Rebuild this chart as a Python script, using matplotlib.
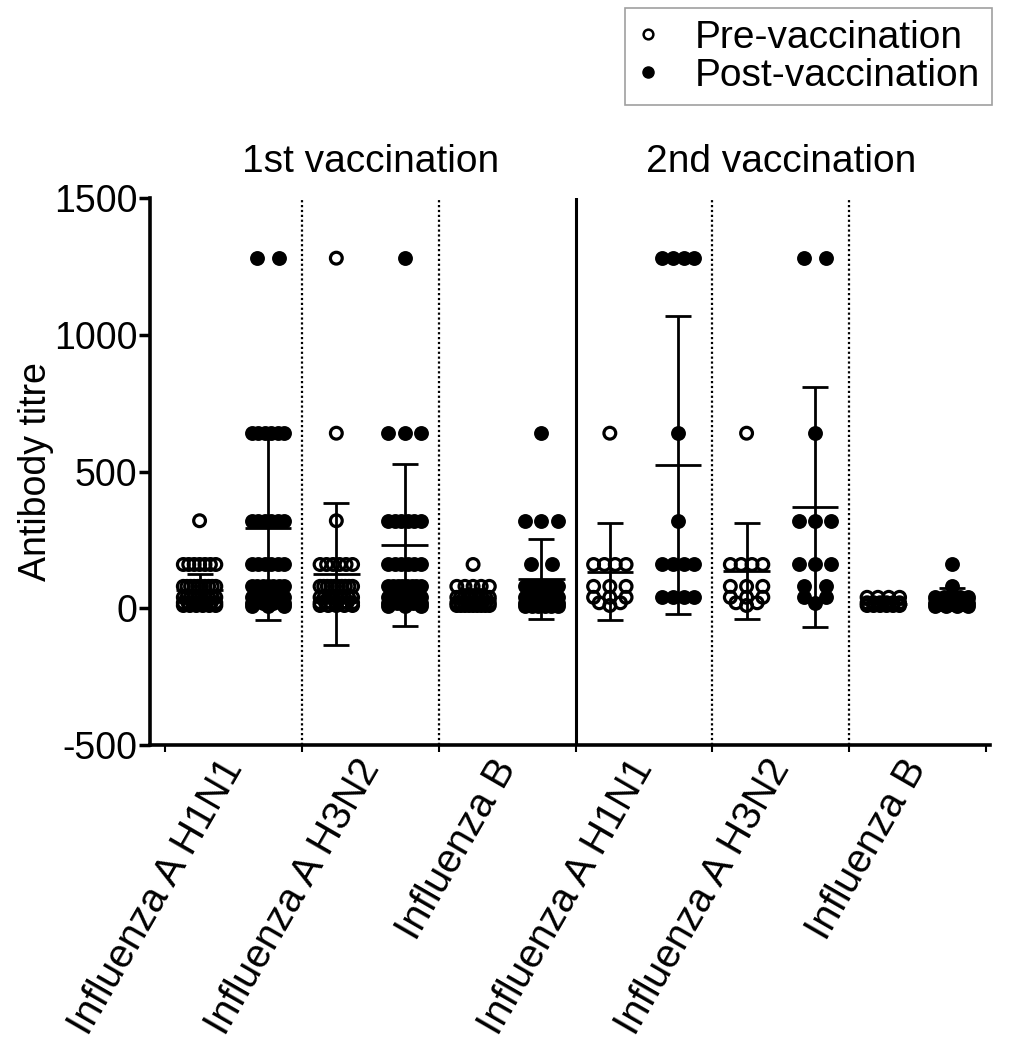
import matplotlib.pyplot as plt
import numpy as np
from matplotlib.lines import Line2D
from matplotlib.transforms import blended_transform_factory

plt.rcParams['font.family'] = ['Liberation Sans', 'DejaVu Sans']
plt.rcParams['axes.unicode_minus'] = False

# Data (HI titres)
groups = ["Influenza A H1N1", "Influenza A H3N2", "Influenza B",
          "Influenza A H1N1", "Influenza A H3N2", "Influenza B"]
phases = ["1st vaccination", "2nd vaccination"]

pre_values = [
    [320] + [160]*7 + [80]*10 + [40]*10 + [20]*8 + [10]*6,
    [1280, 640, 320] + [160]*6 + [80]*10 + [40]*9 + [20]*7 + [10]*5,
    [160] + [80]*5 + [40]*10 + [20]*10 + [10]*9,
    [640] + [160]*4 + [80]*3 + [40]*3 + [20]*2 + [10],
    [640] + [160]*4 + [80]*3 + [40]*3 + [20]*2 + [10],
    [40]*4 + [20]*6 + [10]*6,
]
post_values = [
    [1280]*2 + [640]*6 + [320]*6 + [160]*6 + [80]*7 + [40]*6 + [20]*4 + [10]*3,
    [1280] + [640]*3 + [320]*6 + [160]*6 + [80]*8 + [40]*7 + [20]*5 + [10]*3,
    [640] + [320]*3 + [160]*2 + [80]*8 + [40]*9 + [20]*7 + [10]*6,
    [1280]*4 + [640] + [320] + [160]*4 + [40]*4,
    [1280]*2 + [640] + [320]*3 + [160]*3 + [80]*2 + [40]*2 + [20],
    [160, 80] + [40]*5 + [20]*5 + [10]*4,
]

pre_mean = [66, 125, 35, 134, 137, 15]
pre_sd = [58, 260, 35, 178, 175, 12]
post_mean = [292, 230, 107, 523, 370, 35]
post_sd = [335, 296, 148, 545, 439, 40]


def spread(values, center):
    vals = np.array(values, dtype=float)
    xs = np.zeros(len(vals))
    for v in np.unique(vals):
        idx = np.where(vals == v)[0]
        n = len(idx)
        step = min(0.62, 0.95 / (n - 1)) if n > 1 else 0
        xs[idx] = center + (np.arange(n) - (n - 1) / 2) * step
    return xs, vals


fig = plt.figure(figsize=(10.18, 10.48), dpi=100)
ax = fig.add_axes([150/1018, 1 - 745/1048, 840/1018, 547/1048])

lw = 2.0
for i in range(6):
    xp = 4*i + 1
    xq = 4*i + 3
    x1, v1 = spread(pre_values[i], xp)
    ax.scatter(x1, v1, s=72, facecolors='none', edgecolors='black',
               linewidths=2.3, zorder=3)
    x2, v2 = spread(post_values[i], xq)
    ax.scatter(x2, v2, s=115, color='black', linewidths=0, zorder=3)

    for x, m, sd in [(xp, pre_mean[i], pre_sd[i]), (xq, post_mean[i], post_sd[i])]:
        ax.vlines(x, m - sd, m + sd, color='black', lw=lw, zorder=4)
        ax.hlines(m, x - 0.68, x + 0.68, color='black', lw=lw, zorder=4)
        ax.hlines([m - sd, m + sd], x - 0.38, x + 0.38, color='black', lw=lw, zorder=4)

# group separators
for b in [4, 8, 16, 20]:
    ax.axvline(b, color='black', lw=1.6, ls=(0, (1, 1.2)), zorder=1)
ax.axvline(12, color='black', lw=2.2, zorder=1)

ax.set_xlim(-0.45, 24.12)
ax.set_ylim(-500, 1500)
ax.set_yticks([-500, 0, 500, 1000, 1500])

ax.set_xticks(np.arange(0, 25, 4))
ax.set_xticklabels([])
ax.set_xticks(np.arange(2, 24, 4), minor=True)
ax.set_xticklabels(groups, minor=True, rotation=60, ha='right', va='center',
                   rotation_mode='anchor', fontsize=29)
ax.tick_params(axis='x', which='minor', length=0, pad=12)
ax.tick_params(axis='x', which='major', length=5, width=1.5)
ax.tick_params(axis='y', length=8, width=2.5, labelsize=27, pad=1)

for side in ['top', 'right']:
    ax.spines[side].set_visible(False)
for side in ['left', 'bottom']:
    ax.spines[side].set_linewidth(2.6)

ax.set_ylabel("Antibody titre", fontsize=27, labelpad=0)

trans = blended_transform_factory(ax.transData, ax.transAxes)
ax.text(6, 1.066, phases[0], transform=trans, ha='center', va='center', fontsize=28)
ax.text(18, 1.066, phases[1], transform=trans, ha='center', va='center', fontsize=28)

handles = [Line2D([], [], marker='o', ls='none', markerfacecolor='none',
                  markeredgecolor='black', markeredgewidth=1.8, markersize=7),
           Line2D([], [], marker='o', ls='none', color='black', markersize=8)]
leg = fig.legend(handles, ["Pre-vaccination", "Post-vaccination"],
                 loc='upper right', bbox_to_anchor=(992/1018, 1 - 8/1048),
                 fontsize=28, frameon=True, fancybox=False, edgecolor='#888888',
                 handlelength=0.6, handletextpad=0.9, borderpad=0.3,
                 labelspacing=0.05, borderaxespad=0)
leg.get_frame().set_linewidth(1.2)

fig.savefig("out.png", dpi=100)
